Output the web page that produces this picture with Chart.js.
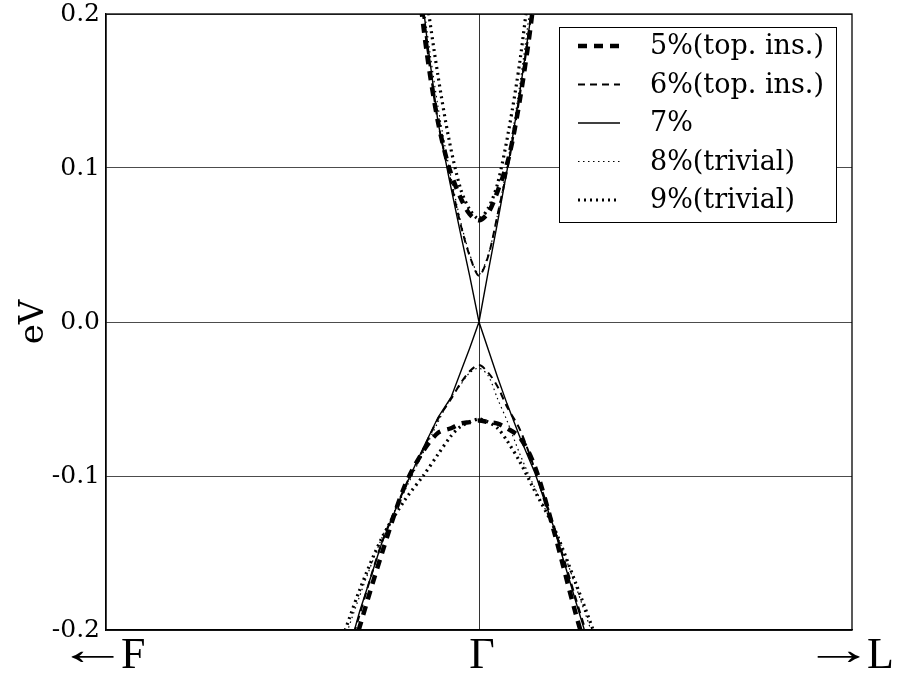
<!DOCTYPE html>
<html>
<head>
<meta charset="utf-8">
<script src="https://cdn.jsdelivr.net/npm/chart.js@4/dist/chart.umd.min.js"></script>
<style>
  body { margin: 0; background: #fff; }
  #wrap { width: 899px; height: 677px; }
</style>
</head>
<body>
<div id="wrap"><canvas id="bands" width="899" height="677"></canvas></div>
<script>
// strain labels, in legend order
const seriesLabels = ['5%(top. ins.)', '6%(top. ins.)', '7%', '8%(trivial)', '9%(trivial)'];
const xTickValues = [-1, 0, 1];
const xTickLetters = ['F', '\u0393', 'L'];
const xTickArrows = ['\u2190', '', '\u2192'];
const yTicks = [-0.2, -0.1, 0.0, 0.1, 0.2];

// k grid (F = -1, Gamma = 0, L = 1)
const kUpper = [-0.17, -0.14, -0.11, -0.08, -0.05, -0.025, 0, 0.025, 0.05, 0.08, 0.11, 0.14, 0.17];
const kLower = [-0.38, -0.32, -0.26, -0.2, -0.15, -0.11, -0.075, -0.05, -0.025, 0, 0.025, 0.05, 0.075, 0.11, 0.15, 0.2, 0.26, 0.32, 0.38];

// conduction band (eV)
const e5Up = [0.235, 0.175, 0.13, 0.1, 0.081, 0.07, 0.066, 0.071, 0.085, 0.107, 0.145, 0.195, 0.26];
const e6Up = [0.24, 0.18, 0.13, 0.096, 0.064, 0.043, 0.030, 0.043, 0.07, 0.104, 0.148, 0.2, 0.26];
const e7Up = [0.25, 0.185, 0.13, 0.093, 0.058, 0.03, 0, 0.033, 0.065, 0.105, 0.15, 0.2, 0.26];
const e8Up = [0.25, 0.19, 0.14, 0.1, 0.066, 0.044, 0.031, 0.044, 0.07, 0.108, 0.155, 0.21, 0.27];
const e9Up = [0.27, 0.21, 0.16, 0.118, 0.087, 0.073, 0.067, 0.074, 0.09, 0.125, 0.17, 0.23, 0.3];

// valence band (eV)
const e5Lo = [-0.25, -0.198, -0.15, -0.107, -0.084, -0.072, -0.069, -0.066, -0.065, -0.064, -0.065, -0.066, -0.069, -0.075, -0.094, -0.135, -0.19, -0.24, -0.29];
const e6Lo = [-0.24, -0.19, -0.143, -0.108, -0.083, -0.063, -0.05, -0.04, -0.032, -0.028, -0.033, -0.042, -0.055, -0.07, -0.096, -0.132, -0.18, -0.228, -0.28];
const e7Lo = [-0.24, -0.188, -0.143, -0.108, -0.082, -0.062, -0.049, -0.033, -0.017, 0, -0.018, -0.036, -0.053, -0.075, -0.098, -0.133, -0.182, -0.23, -0.28];
const e8Lo = [-0.22, -0.178, -0.14, -0.11, -0.085, -0.065, -0.049, -0.041, -0.033, -0.03, -0.035, -0.05, -0.064, -0.086, -0.108, -0.133, -0.172, -0.215, -0.265];
const e9Lo = [-0.215, -0.174, -0.14, -0.116, -0.1, -0.086, -0.074, -0.068, -0.065, -0.063, -0.065, -0.069, -0.077, -0.091, -0.11, -0.133, -0.17, -0.21, -0.26];

const upBands = [e5Up, e6Up, e7Up, e8Up, e9Up];
const loBands = [e5Lo, e6Lo, e7Lo, e8Lo, e9Lo];

// line looks per strain
const lineWidths = [4.5, 2, 1.4, 1.2, 3.2];
const lineDashes = [[9, 7], [7, 5], [], [1.5, 3.5], [2, 4]];
const tensions = [0.3, 0.3, 0, 0.3, 0.3];

function bandPoints(up, lo) {
    const pts = kUpper.map((k, i) => ({ x: k, y: up[i] }));
    pts.push({ x: 0, y: null }); // break between the two bands
    kLower.forEach((k, i) => pts.push({ x: k, y: lo[i] }));
    return pts;
}

const datasets = seriesLabels.map((label, i) => ({
    label: label,
    data: bandPoints(upBands[i], loBands[i]),
    borderColor: '#000',
    borderWidth: lineWidths[i],
    borderDash: lineDashes[i],
    tension: tensions[i],
    pointRadius: 0,
    fill: false,
    spanGaps: false,
    clip: 0
}));

// frame round the plot area
const framePlugin = {
    id: 'frame',
    afterDatasetsDraw(chart) {
        const { ctx, chartArea: a } = chart;
        ctx.save();
        ctx.strokeStyle = '#000';
        ctx.lineWidth = 1.3;
        ctx.strokeRect(a.left, a.top, a.right - a.left, a.bottom - a.top);
        ctx.restore();
    }
};

// high-symmetry point labels, arrows stretched to a long arrow
const kLabelPlugin = {
    id: 'kLabels',
    afterDraw(chart) {
        const ctx = chart.ctx;
        const xs = chart.scales.x;
        const baseY = chart.chartArea.bottom + 38;
        const arrowMidY = chart.chartArea.bottom + 27;
        const arrowW = 45;
        ctx.save();
        ctx.fillStyle = '#000';
        ctx.textBaseline = 'alphabetic';
        ctx.font = '44px "Liberation Serif"';
        xTickValues.forEach((v, i) => {
            const px = xs.getPixelForValue(v);
            const letterW = ctx.measureText(xTickLetters[i]).width;
            if (!xTickArrows[i]) {
                ctx.fillText(xTickLetters[i], px + 3 - letterW / 2, baseY);
                return;
            }
            const m = ctx.measureText(xTickArrows[i]);
            const visW = m.actualBoundingBoxLeft + m.actualBoundingBoxRight;
            const sx = arrowW / visW;
            const by = arrowMidY + (m.actualBoundingBoxAscent - m.actualBoundingBoxDescent) / 2;
            ctx.save();
            ctx.translate(px - 36, by);
            ctx.scale(sx, 1);
            ctx.fillText(xTickArrows[i], m.actualBoundingBoxLeft, 0);
            ctx.restore();
            ctx.fillText(xTickLetters[i], px + 15, baseY);
        });
        ctx.restore();
    }
};

// matplotlib-like legend box in the upper right
const legendPlugin = {
    id: 'boxLegend',
    afterDraw(chart) {
        const ctx = chart.ctx;
        const box = { x: 559.5, y: 27.5, w: 277, h: 195 };
        ctx.save();
        ctx.fillStyle = '#fff';
        ctx.fillRect(box.x, box.y, box.w, box.h);
        ctx.strokeStyle = '#000';
        ctx.lineWidth = 1;
        ctx.strokeRect(box.x, box.y, box.w, box.h);
        ctx.font = '27px "DejaVu Serif"';
        ctx.textBaseline = 'middle';
        ctx.fillStyle = '#000';
        seriesLabels.forEach((label, i) => {
            const y = 46 + i * 38.5;
            ctx.beginPath();
            ctx.setLineDash(lineDashes[i]);
            ctx.lineWidth = lineWidths[i];
            ctx.moveTo(578, y);
            ctx.lineTo(620, y);
            ctx.stroke();
            ctx.setLineDash([]);
            ctx.fillText(label, 650, y + 1);
        });
        ctx.restore();
    }
};

new Chart(document.getElementById('bands'), {
    type: 'line',
    data: { datasets: datasets },
    options: {
        responsive: false,
        animation: false,
        layout: { padding: { top: 14, right: 47, left: 0, bottom: 0 } },
        elements: { line: { capBezierPoints: false } },
        plugins: { legend: { display: false }, tooltip: { enabled: false } },
        scales: {
            x: {
                type: 'linear',
                min: -1,
                max: 1,
                afterFit: (s) => { s.height = 47; },
                afterBuildTicks: (s) => { s.ticks = xTickValues.map(v => ({ value: v })); },
                ticks: { display: false },
                grid: {
                    drawTicks: false,
                    color: (c) => (c.tick && c.tick.value === 0 ? 'rgba(0,0,0,0.8)' : 'rgba(0,0,0,0)'),
                    lineWidth: 1
                },
                border: { display: true, color: '#000', width: 1.3 }
            },
            y: {
                min: -0.2,
                max: 0.2,
                afterFit: (s) => { s.width = 106; s.paddingTop = 0; s.paddingBottom = 0; },
                afterBuildTicks: (s) => { s.ticks = yTicks.map(v => ({ value: v })); },
                ticks: {
                    callback: (v) => v.toFixed(1),
                    font: { family: '"DejaVu Serif"', size: 25 },
                    color: '#000',
                    padding: 6
                },
                grid: {
                    drawTicks: false,
                    color: 'rgba(0,0,0,0.7)',
                    lineWidth: 1
                },
                border: { display: true, color: '#000', width: 1.3 },
                title: {
                    display: true,
                    text: 'eV',
                    font: { family: '"DejaVu Serif"', size: 34 },
                    color: '#000',
                    padding: { top: 14, bottom: 0 }
                }
            }
        }
    },
    plugins: [framePlugin, kLabelPlugin, legendPlugin]
});
</script>
</body>
</html>
